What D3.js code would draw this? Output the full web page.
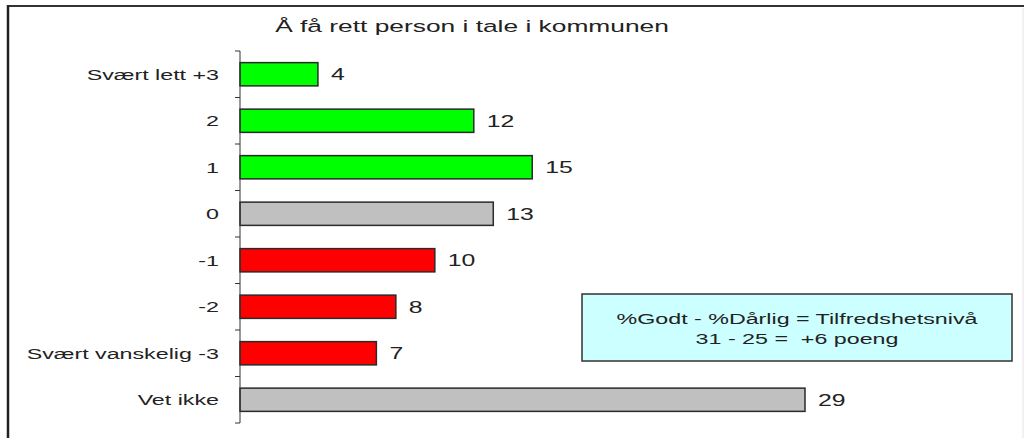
<!DOCTYPE html>
<html>
<head>
<meta charset="utf-8">
<script src="https://cdn.jsdelivr.net/npm/d3@7"></script>
<style>
  body { margin: 0; background: #fff; }
  text { font-family: "Liberation Sans", Arial, sans-serif; fill: #222; }
</style>
</head>
<body>
<div id="vis"></div>
<script>
// chart data
const categories = ["Svært lett +3", "2", "1", "0", "-1", "-2", "Svært vanskelig -3", "Vet ikke"];
const values = [4, 12, 15, 13, 10, 8, 7, 29];
const groups = ["pos", "pos", "pos", "mid", "neg", "neg", "neg", "mid"];
const title = "Å få rett person i tale i kommunen";
const noteLines = ["%Godt - %Dårlig = Tilfredshetsnivå", "31 - 25 =  +6 poeng"];

const width = 1029, height = 438;
const stretch = 1.55; // the source picture has wide, stretched lettering
const fillColor = { pos: "#00ff00", mid: "#c0c0c0", neg: "#ff0000" };

const svg = d3.select("#vis").append("svg")
  .attr("width", width)
  .attr("height", height);

// place a horizontally stretched text
function wideText(sel, tx, ty) {
  return sel.attr("transform", (d, i) => `translate(${tx(d, i)},${ty(d, i)}) scale(${stretch},1)`);
}

// outer frame (cropped at bottom)
svg.append("line").attr("x1", 8).attr("x2", 1024).attr("y1", 6).attr("y2", 6)
  .attr("stroke", "#333").attr("stroke-width", 2);
svg.append("line").attr("x1", 8).attr("x2", 8).attr("y1", 5).attr("y2", height)
  .attr("stroke", "#222").attr("stroke-width", 2.5);
svg.append("line").attr("x1", 1023).attr("x2", 1023).attr("y1", 8).attr("y2", height)
  .attr("stroke", "#e4e4e4").attr("stroke-width", 1);

const x = d3.scaleLinear().domain([0, 29]).range([240, 805]);
const y = d3.scaleBand().domain(categories).range([51, 423]).paddingInner(0.5).paddingOuter(0.25);

svg.append("text")
  .datum(title)
  .call(wideText, () => 472, () => 32)
  .attr("text-anchor", "middle")
  .style("font-size", "17px")
  .text(d => d);

// bars
svg.selectAll(".bar")
  .data(values)
  .enter().append("rect")
  .attr("class", "bar")
  .attr("x", x(0))
  .attr("y", (d, i) => y(categories[i]))
  .attr("width", d => x(d) - x(0))
  .attr("height", y.bandwidth())
  .attr("fill", (d, i) => fillColor[groups[i]])
  .attr("stroke", "#2a2a2a")
  .attr("stroke-width", 1.5);

// value labels
svg.selectAll(".val")
  .data(values)
  .enter().append("text")
  .attr("class", "val")
  .call(wideText, d => x(d) + 13, (d, i) => y(categories[i]) + y.bandwidth() / 2)
  .attr("dy", "0.36em")
  .style("font-size", "16px")
  .text(d => d);

// category axis, ticks between the bands
const edges = d3.range(categories.length + 1).map(i => 51 + i * (372 / categories.length));
const axis = svg.append("g");
axis.append("line")
  .attr("x1", 240).attr("x2", 240).attr("y1", 51).attr("y2", 423)
  .attr("stroke", "#333").attr("stroke-width", 1);
axis.selectAll(".tick")
  .data(edges)
  .enter().append("line")
  .attr("x1", 235).attr("x2", 240)
  .attr("y1", d => d).attr("y2", d => d)
  .attr("stroke", "#333");
axis.selectAll(".cat")
  .data(categories)
  .enter().append("text")
  .call(wideText, () => 219, d => y(d) + y.bandwidth() / 2)
  .attr("dy", "0.36em")
  .attr("text-anchor", "end")
  .style("font-size", "15px")
  .text(d => d);

// note box
const note = svg.append("g");
note.append("rect")
  .attr("x", 582).attr("y", 294).attr("width", 430).attr("height", 67)
  .attr("fill", "#ccffff").attr("stroke", "#333").attr("stroke-width", 1.5);
note.selectAll("text")
  .data(noteLines)
  .enter().append("text")
  .call(wideText, () => 797, (d, i) => 324 + i * 20)
  .attr("text-anchor", "middle")
  .style("font-size", "15px")
  .style("white-space", "pre")
  .text(d => d);
</script>
</body>
</html>
